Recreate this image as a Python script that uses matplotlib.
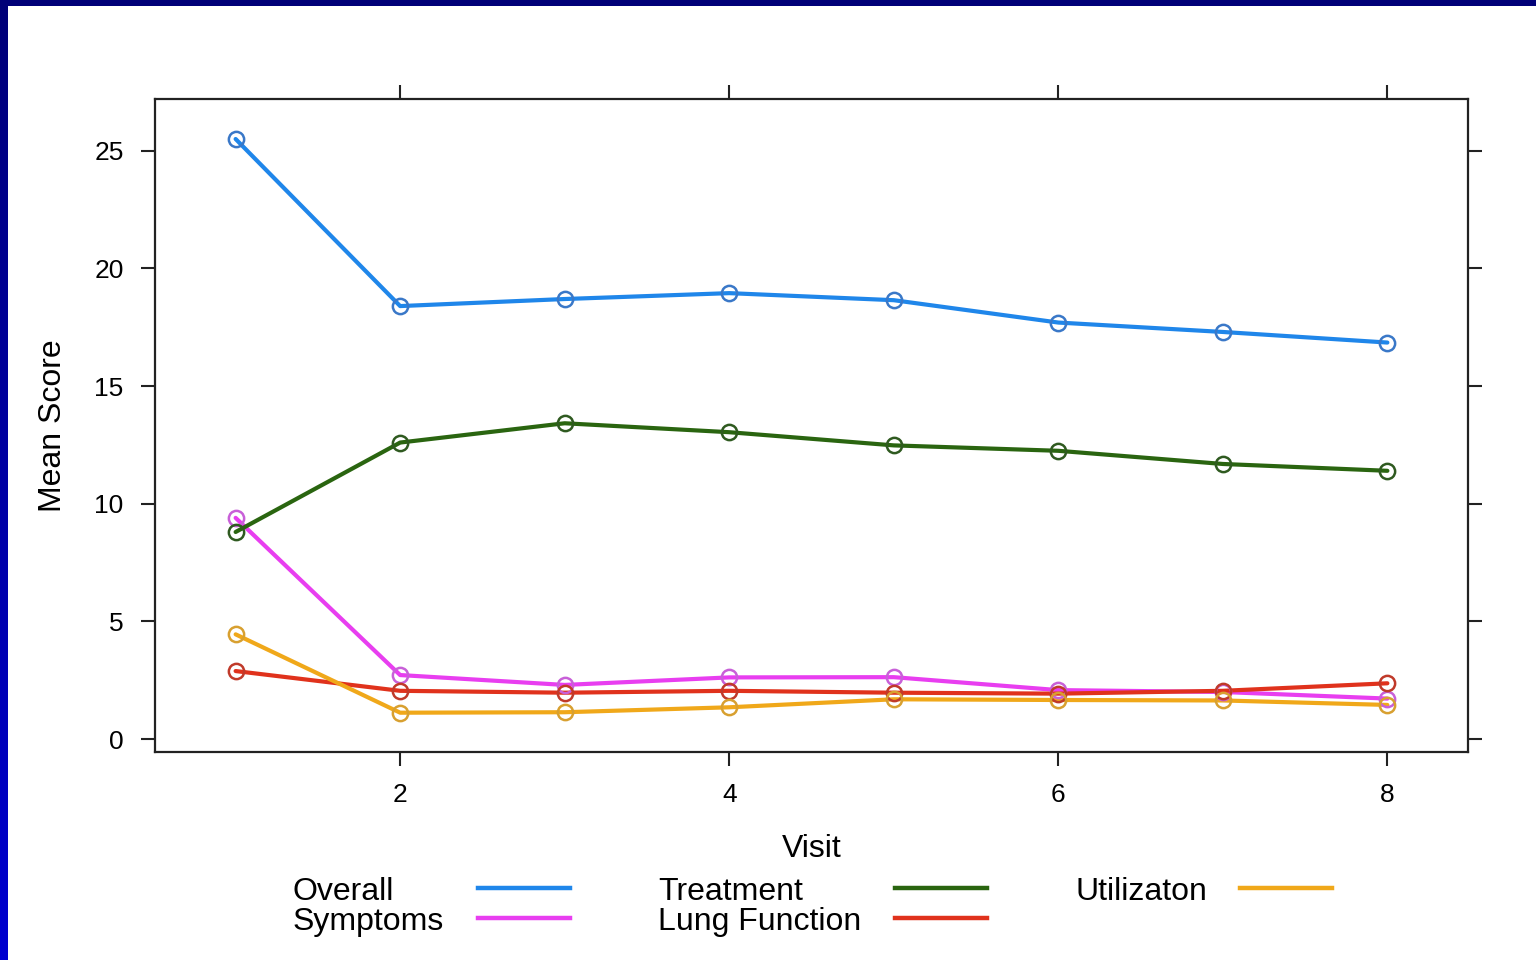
import numpy as np
import matplotlib
matplotlib.use("Agg")
import matplotlib.pyplot as plt
from matplotlib.lines import Line2D
from matplotlib.colors import LinearSegmentedColormap

plt.rcParams['font.family'] = ['Liberation Sans', 'DejaVu Sans']

visits = [1, 2, 3, 4, 5, 6, 7, 8]
overall = [25.5, 18.4, 18.7, 18.95, 18.65, 17.7, 17.3, 16.85]
symptoms = [9.4, 2.72, 2.3, 2.62, 2.63, 2.08, 2.0, 1.72]
treatment = [8.8, 12.6, 13.42, 13.04, 12.48, 12.25, 11.69, 11.4]
lung = [2.89, 2.05, 1.97, 2.05, 1.97, 1.93, 2.05, 2.37]
utilization = [4.45, 1.12, 1.14, 1.35, 1.69, 1.66, 1.64, 1.45]

series_names = ["Overall", "Symptoms", "Treatment", "Lung Function", "Utilizaton"]
series_values = [overall, symptoms, treatment, lung, utilization]
line_colors = ["#1f86ea", "#e83ef0", "#2a6510", "#e0321c", "#f0a81a"]
edge_colors = ["#3a78c8", "#c860d8", "#2f5a20", "#c03a2a", "#d8a030"]

x_ticks = [2, 4, 6, 8]
y_ticks = [0, 5, 10, 15, 20, 25]

W, H = 1536, 960
fig = plt.figure(figsize=(W / 100, H / 100), dpi=100)
fig.patch.set_facecolor("white")

# blue frame (top band + left gradient band)
top = fig.add_axes([0, 1 - 6 / H, 1, 6 / H])
top.set_axis_off()
top.add_patch(plt.Rectangle((0, 0), 1, 1, color="#000078", transform=top.transAxes))
left = fig.add_axes([0, 0, 8 / W, 1])
left.set_axis_off()
grad = np.linspace(0, 1, 256).reshape(-1, 1)
cmap = LinearSegmentedColormap.from_list("b", ["#0000d0", "#000078"])
left.imshow(grad, aspect="auto", cmap=cmap, origin="lower", extent=[0, 1, 0, 1])

ax = fig.add_axes([155 / W, 1 - 752 / H, (1468 - 155) / W, (752 - 99) / H])
for name, vals, lc, ec in zip(series_names, series_values, line_colors, edge_colors):
    ax.plot(visits, vals, color=lc, lw=3, solid_capstyle="round", zorder=2)
    ax.plot(visits, vals, linestyle="none", marker="o", markersize=11,
            markerfacecolor="none", markeredgecolor=ec, markeredgewidth=1.8, zorder=3)

ax.set_xlim(0.51, 8.49)
ax.set_ylim(-0.55, 27.2)
ax.set_xticks(x_ticks)
ax.set_yticks(y_ticks)
ax.tick_params(axis="both", direction="out", length=10, width=1.5, color="#222222",
               labelsize=19, top=True, right=True, labeltop=False, labelright=False)
ax.tick_params(axis="x", pad=12.5)
ax.tick_params(axis="y", pad=12.5)
for s in ax.spines.values():
    s.set_linewidth(1.6)
    s.set_color("#222222")
ax.set_xlabel("Visit", fontsize=23, labelpad=19)
ax.set_ylabel("Mean Score", fontsize=23, labelpad=19)

# legend (manual, three columns: text then line)
rows_y = [1 - 892 / H, 1 - 922 / H]
cols = [(293, 478, 570), (658, 895, 987), (1075, 1240, 1332)]
positions = [(0, 0), (0, 1), (1, 0), (1, 1), (2, 0)]
for (ci, ri), name, lc in zip(positions, series_names, line_colors):
    tx, l0, l1 = cols[ci]
    y = rows_y[ri]
    fig.text(tx / W, y, name, fontsize=23, ha="left", va="center")
    fig.add_artist(Line2D([l0 / W, l1 / W], [y + 4 / H, y + 4 / H], color=lc, lw=3.2,
                          transform=fig.transFigure))

fig.savefig("out.png", dpi=100)
